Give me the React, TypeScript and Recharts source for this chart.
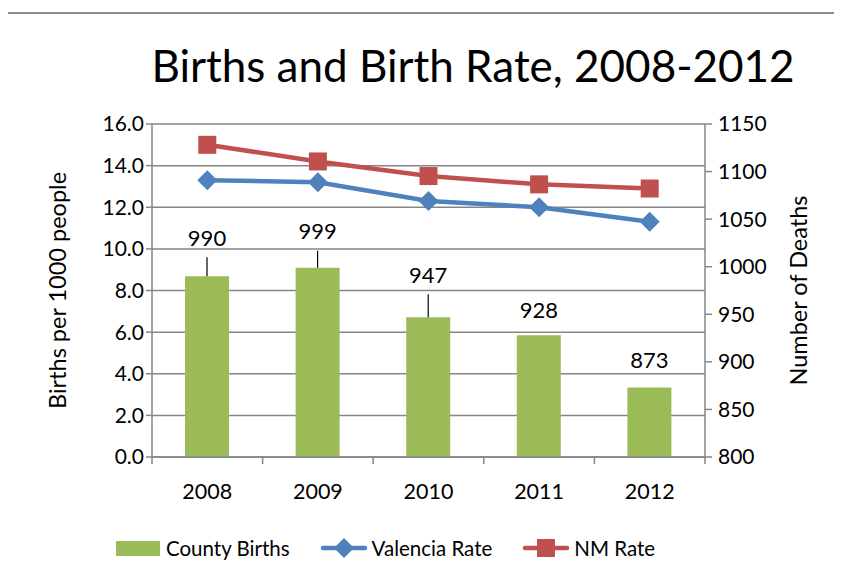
import React from "react";
import { Bar, ComposedChart, CartesianGrid, LabelList, Line, XAxis, YAxis } from "recharts";

const years = ["2008", "2009", "2010", "2011", "2012"];
const countyBirths = [990, 999, 947, 928, 873];
const valenciaRate = [13.3, 13.2, 12.3, 12.0, 11.3];
const nmRate = [15.0, 14.2, 13.5, 13.1, 12.9];
const leftTicks = [0, 2, 4, 6, 8, 10, 12, 14, 16];
const rightTicks = [800, 850, 900, 950, 1000, 1050, 1100, 1150];

// how far each value label sits above its bar (Excel dragged some of them up)
const labelLift = [39, 37, 43, 26, 28];

const GREEN = "#9BBB59";
const BLUE = "#4F81BD";
const RED = "#C0504D";
const GRID = "#868686";
const FRAME = "#8c8c8c";
const FONT = "Lato, 'Open Sans', sans-serif";

const PLOT_LEFT = 152;
const PLOT_RIGHT = 705;
const BAND = (PLOT_RIGHT - PLOT_LEFT) / years.length;

const data = years.map((y, i) => ({
  year: y,
  births: countyBirths[i],
  valencia: valenciaRate[i],
  nm: nmRate[i],
}));

function Diamond(props: any) {
  const { cx, cy } = props;
  if (cx == null || cy == null) return null;
  const r = 10;
  return <polygon points={`${cx},${cy - r} ${cx + r},${cy} ${cx},${cy + r} ${cx - r},${cy}`} fill={BLUE} />;
}

function Square(props: any) {
  const { cx, cy } = props;
  if (cx == null || cy == null) return null;
  const s = 18;
  return <rect x={cx - s / 2} y={cy - s / 2} width={s} height={s} fill={RED} />;
}

function BarLabel(props: any) {
  const { x, y, width, value, index } = props;
  const lift = labelLift[index] ?? 30;
  const cx = x + width / 2;
  const ty = y - lift;
  return (
    <g>
      <text x={cx} y={ty} textAnchor="middle" dominantBaseline="central" fontSize={22} fontFamily={FONT} fill="#000">
        {value}
      </text>
      {lift > 32 && <line x1={cx} x2={cx} y1={ty + 20} y2={y} stroke="#000" strokeWidth={1.2} />}
    </g>
  );
}

function YearTick(props: any) {
  const { x, y, payload, index } = props;
  return (
    <g>
      <line x1={x - BAND / 2} x2={x - BAND / 2} y1={y - 8} y2={y - 1} stroke={GRID} strokeWidth={1.5} />
      {index === years.length - 1 && (
        <line x1={x + BAND / 2} x2={x + BAND / 2} y1={y - 8} y2={y - 1} stroke={GRID} strokeWidth={1.5} />
      )}
      <text x={x} y={y + 34} textAnchor="middle" fontSize={21.5} fontFamily={FONT} fill="#000">
        {payload.value}
      </text>
    </g>
  );
}

function LegendItem({ kind, color, label }: { kind: "bar" | "diamond" | "square"; color: string; label: string }) {
  return (
    <span style={{ display: "inline-flex", alignItems: "center", marginRight: 30 }}>
      <svg width={48} height={24} style={{ marginRight: 4 }}>
        {kind === "bar" && <rect x={2} y={5} width={44} height={15} fill={color} />}
        {kind !== "bar" && <line x1={3} x2={45} y1={12} y2={12} stroke={color} strokeWidth={4.5} strokeLinecap="round" />}
        {kind === "diamond" && <polygon points="24,2 34,12 24,22 14,12" fill={color} />}
        {kind === "square" && <rect x={15} y={3} width={18} height={18} fill={color} />}
      </svg>
      {label}
    </span>
  );
}

export default function App() {
  return (
    <div style={{ position: "relative", width: 842, height: 581, margin: -8, background: "#fff", overflow: "hidden" }}>
      <div
        style={{
          position: "absolute",
          left: 0,
          width: 842,
          top: 39,
          textAlign: "center",
          fontFamily: FONT,
          fontSize: 44,
          lineHeight: "53px",
          paddingLeft: 104,
          boxSizing: "border-box",
          color: "#000",
        }}
      >
        Births and Birth Rate, 2008-2012
      </div>
      <div style={{ position: "absolute", left: 0, top: 0 }}>
        <ComposedChart
          width={842}
          height={581}
          data={data}
          margin={{ top: 124, right: 57, left: 80, bottom: 64 }}
        >
          <CartesianGrid yAxisId="left" vertical={false} stroke={GRID} strokeWidth={1.5} />
          <XAxis
            dataKey="year"
            axisLine={{ stroke: GRID, strokeWidth: 1.5 }}
            tickLine={false}
            tick={<YearTick />}
            interval={0}
            height={60}
          />
          <YAxis
            yAxisId="left"
            domain={[0, 16]}
            ticks={leftTicks}
            width={72}
            axisLine={{ stroke: GRID, strokeWidth: 1.5 }}
            tickLine={{ stroke: GRID, strokeWidth: 1.5 }}
            tickSize={6}
            tickFormatter={(v: number) => v.toFixed(1)}
            tick={{ fill: "#000", fontSize: 21, fontFamily: FONT }}
            label={{
              value: "Births per 1000 people",
              angle: -90,
              position: "insideLeft",
              offset: -22,
              style: { textAnchor: "middle", fill: "#000", fontSize: 23.5, fontFamily: FONT },
            }}
          />
          <YAxis
            yAxisId="right"
            orientation="right"
            domain={[800, 1150]}
            ticks={rightTicks}
            width={80}
            axisLine={{ stroke: GRID, strokeWidth: 1.5 }}
            tickLine={{ stroke: GRID, strokeWidth: 1.5 }}
            tickSize={7}
            tick={{ fill: "#000", fontSize: 21, fontFamily: FONT, textAnchor: "start", dx: 4 }}
            label={{
              value: "Number of Deaths",
              angle: -90,
              position: "insideRight",
              offset: -14,
              style: { textAnchor: "middle", fill: "#000", fontSize: 23.5, fontFamily: FONT },
            }}
          />
          <Bar yAxisId="right" dataKey="births" fill={GREEN} barSize={44} isAnimationActive={false}>
            <LabelList dataKey="births" content={<BarLabel />} />
          </Bar>
          <Line
            yAxisId="left"
            dataKey="valencia"
            stroke={BLUE}
            strokeWidth={4.5}
            dot={<Diamond />}
            activeDot={false}
            isAnimationActive={false}
          />
          <Line
            yAxisId="left"
            dataKey="nm"
            stroke={RED}
            strokeWidth={4.5}
            dot={<Square />}
            activeDot={false}
            isAnimationActive={false}
          />
        </ComposedChart>
      </div>
      <div
        style={{
          position: "absolute",
          left: 114,
          top: 536,
          display: "flex",
          alignItems: "center",
          fontFamily: FONT,
          fontSize: 20.5,
          color: "#000",
        }}
      >
        <LegendItem kind="bar" color={GREEN} label="County Births" />
        <LegendItem kind="diamond" color={BLUE} label="Valencia Rate" />
        <LegendItem kind="square" color={RED} label="NM Rate" />
      </div>
      {/* outer chart frame, bottom edge runs off the page */}
      <div style={{ position: "absolute", left: 4, top: 12, width: 833, height: 2, background: FRAME }} />
      <div style={{ position: "absolute", left: 4, top: 12, width: 2, height: 580, background: FRAME }} />
      <div style={{ position: "absolute", left: 835, top: 12, width: 2, height: 580, background: FRAME }} />
    </div>
  );
}
